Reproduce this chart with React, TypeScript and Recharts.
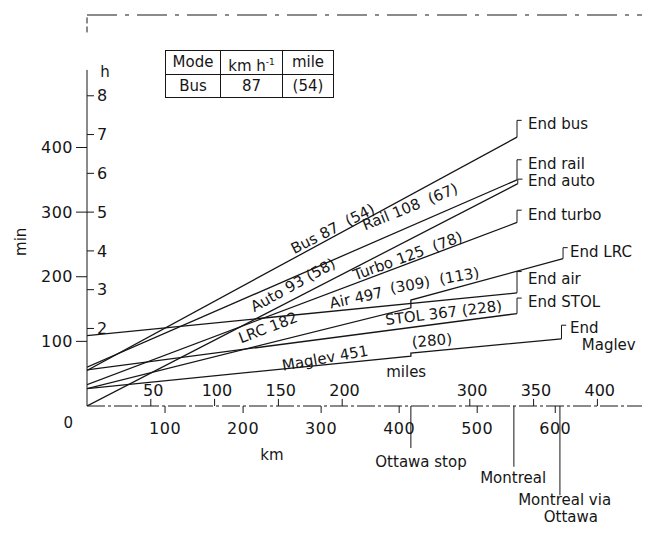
import { LineChart, Line, XAxis, YAxis, ReferenceLine, ReferenceDot } from 'recharts';

const font = '"DejaVu Sans", sans-serif';
const ink = '#161616';

// door-to-door time (min) against distance (km) for each mode
const busKm = [0, 551];
const busMin = [55, 416];
const railKm = [0, 551];
const railMin = [60, 350];
const autoKm = [0, 552];
const autoMin = [0, 344];
const turboKm = [0, 551];
const turboMin = [33, 284];
const airKm = [0, 551];
const airMin = [109, 175];
const stolKm = [0, 551];
const stolMin = [56, 143];
const lrcKm = [0, 415, 415, 610];
const lrcMin = [27, 152, 164, 228];
const maglevKm = [0, 415, 415, 608];
const maglevMin = [27, 77, 82, 104];

// where the "End ..." brackets reach up to (min)
const bracketTop = [442, 381, 351, 303, 208, 167, 245, 125];

const kmTicks = [100, 200, 300, 400, 500, 600];
const mileTicks = [50, 100, 150, 200, 300, 350, 400];
const kmPerMile = 1.635; // as the mile scale is drawn in the figure
const minTicks = [100, 200, 300, 400];
const hourTicks = [2, 3, 4, 5, 6, 7, 8];

const stopKm = [415, 547, 606];
const stopDepth = [-65, -94, -138];

const toRows = (km: number[], min: number[]) => km.map((k, i) => ({ km: k, min: min[i] }));

const series = [
  toRows(busKm, busMin),
  toRows(railKm, railMin),
  toRows(autoKm, autoMin),
  toRows(turboKm, turboMin),
  toRows(airKm, airMin),
  toRows(stolKm, stolMin),
  toRows(lrcKm, lrcMin),
  toRows(maglevKm, maglevMin),
];

// text, km, min, angle, anchor
const notes: [string, number, number, number, string][] = [
  ['Bus 87  (54)', 315, 274, -27, 'middle'],
  ['Rail 108  (67)', 414, 308, -22, 'middle'],
  ['Auto 93 (58)', 264, 187, -29, 'middle'],
  ['Turbo 125  (78)', 411, 232, -20, 'middle'],
  ['Air 497', 345, 167, -12, 'middle'],
  ['(309)', 414, 187, -10, 'middle'],
  ['(113)', 477, 201, -10, 'middle'],
  ['LRC 182', 232, 121, -21, 'middle'],
  ['STOL 367 (228)', 457, 144, -7, 'middle'],
  ['Maglev 451', 305, 74, -10, 'middle'],
  ['(280)', 442, 101, -5, 'middle'],
  ['miles', 409, 53, 0, 'middle'],
  ['End bus', 565, 436, 0, 'start'],
  ['End rail', 565, 374, 0, 'start'],
  ['End auto', 565, 348, 0, 'start'],
  ['End turbo', 565, 296, 0, 'start'],
  ['End LRC', 619, 238, 0, 'start'],
  ['End air', 565, 197, 0, 'start'],
  ['End STOL', 565, 161, 0, 'start'],
  ['End', 619, 121, 0, 'start'],
  ['Maglev', 634, 94, 0, 'start'],
  ['0', -24, -26, 0, 'middle'],
  ['km', 237, -76, 0, 'middle'],
  ['min', -85, 254, -90, 'middle'],
  ['h', 23, 517, 0, 'middle'],
  ['Ottawa stop', 428, -87, 0, 'middle'],
  ['Montreal', 546, -111, 0, 'middle'],
  ['Montreal via', 612, -146, 0, 'middle'],
  ['Ottawa', 620, -172, 0, 'middle'],
];

const tickStyle = { fontSize: 16, fill: ink, fontFamily: font, letterSpacing: 0.5 };
const axisIds = { xAxisId: 'km', yAxisId: 'min' };

function segment(key: string, a: { x: number; y: number }, b: { x: number; y: number }, dash?: string) {
  return (
    <ReferenceLine
      key={key}
      {...axisIds}
      segment={[a, b]}
      stroke={ink}
      strokeWidth={1}
      strokeDasharray={dash}
      ifOverflow="visible"
    />
  );
}

function note(key: string, text: string, km: number, min: number, angle: number, anchor: string, size = 15) {
  return (
    <ReferenceDot
      key={key}
      {...axisIds}
      x={km}
      y={min}
      r={0}
      ifOverflow="visible"
      shape={(p: any) => (
        <text
          x={p.cx}
          y={p.cy}
          transform={angle ? `rotate(${angle} ${p.cx} ${p.cy})` : undefined}
          textAnchor={anchor as any}
          dominantBaseline="central"
          fontSize={size}
          fontFamily={font}
          fill={ink}
          style={{ whiteSpace: 'pre' }}
        >
          {text}
        </text>
      )}
    />
  );
}

export default function App() {
  return (
    <div style={{ position: 'relative', width: 642, height: 525, marginBottom: -8, fontFamily: font }}>
      <LineChart width={642} height={525} margin={{ top: 7, right: 5, bottom: 97, left: 39 }}>
        <XAxis
          xAxisId="km"
          type="number"
          dataKey="km"
          domain={[0, 715]}
          ticks={kmTicks}
          allowDataOverflow
          tickSize={7}
          tickMargin={10}
          tick={tickStyle}
          axisLine={{ stroke: ink, strokeDasharray: '18 3 3 3' }}
          tickLine={{ stroke: ink }}
        />
        <YAxis
          yAxisId="min"
          type="number"
          domain={[0, 605]}
          ticks={minTicks}
          width={40}
          allowDataOverflow
          tickSize={11}
          tickMargin={3}
          tick={tickStyle}
          axisLine={false}
          tickLine={{ stroke: ink }}
        />
        <YAxis
          yAxisId="h"
          type="number"
          mirror
          domain={[0, 605 / 60]}
          ticks={hourTicks}
          allowDataOverflow
          tickSize={7}
          tickMargin={3}
          tick={tickStyle}
          axisLine={false}
          tickLine={{ stroke: ink }}
        />

        {/* frame */}
        {segment('left1', { x: 0, y: 0 }, { x: 0, y: 520 })}
        {segment('left2', { x: 0, y: 578 }, { x: 0, y: 605 }, '6 3')}
        {segment('top', { x: 0, y: 605 }, { x: 715, y: 605 }, '30 8 4 8')}
        {segment('right', { x: 715, y: 0 }, { x: 715, y: 285 })}

        {/* mile scale, ticks pointing up from the km axis */}
        {mileTicks.map((m) => segment(`mt${m}`, { x: m * kmPerMile, y: 0 }, { x: m * kmPerMile, y: 11 }))}
        {mileTicks.map((m) => note(`ml${m}`, String(m), m * kmPerMile + 3, 24, 0, 'middle', 16))}

        {stopKm.map((k, i) => segment(`stop${i}`, { x: k, y: 0 }, { x: k, y: stopDepth[i] }))}

        {series.map((rows, i) => (
          <Line
            key={`s${i}`}
            {...axisIds}
            data={rows}
            dataKey="min"
            type="linear"
            dot={false}
            stroke={ink}
            strokeWidth={1.3}
            isAnimationActive={false}
          />
        ))}

        {series.map((rows, i) => {
          const end = rows[rows.length - 1];
          return [
            segment(`bv${i}`, { x: end.km, y: end.min }, { x: end.km, y: bracketTop[i] }),
            segment(`bh${i}`, { x: end.km, y: bracketTop[i] }, { x: end.km + 6, y: bracketTop[i] }),
          ];
        })}

        {notes.map(([text, km, min, angle, anchor]) => note(text + km, text, km, min, angle, anchor))}
      </LineChart>

      <div
        style={{
          position: 'absolute',
          left: 157,
          top: 42,
          display: 'grid',
          gridTemplateColumns: '55px 62px 50px',
          gridTemplateRows: '24px 22px',
          border: `1px solid ${ink}`,
          fontSize: 15,
          color: ink,
          textAlign: 'center',
          lineHeight: '22px',
        }}
      >
        <div style={{ borderRight: `1px solid ${ink}`, borderBottom: `1px solid ${ink}` }}>Mode</div>
        <div style={{ borderRight: `1px solid ${ink}`, borderBottom: `1px solid ${ink}` }}>
          km h<sup style={{ fontSize: 9 }}>-1</sup>
        </div>
        <div style={{ borderBottom: `1px solid ${ink}` }}>mile</div>
        <div style={{ borderRight: `1px solid ${ink}` }}>Bus</div>
        <div style={{ borderRight: `1px solid ${ink}` }}>87</div>
        <div>(54)</div>
      </div>
    </div>
  );
}
